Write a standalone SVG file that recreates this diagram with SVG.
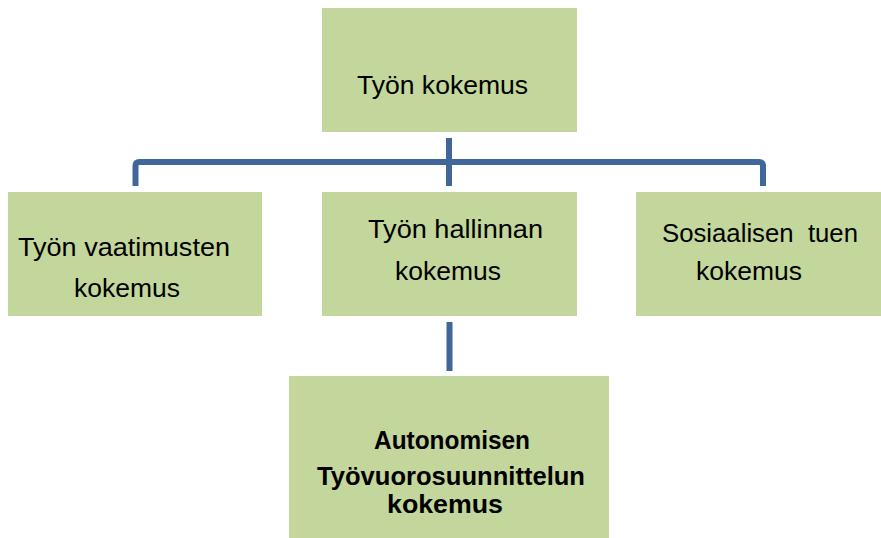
<svg xmlns="http://www.w3.org/2000/svg" width="881" height="538" viewBox="0 0 881 538">
  <style>
    .box { fill: #C3D69B; }
    .lbl { font-family: "Liberation Sans", Arial, sans-serif; font-size: 26px; fill: #000; }
    .bold { font-weight: bold; }
    .pre { white-space: pre; }
    .conn { fill: none; stroke: #41679A; stroke-width: 6; stroke-linejoin: round; }
  </style>
  <rect width="881" height="538" fill="#FFFFFF"/>

  <g id="connectors">
    <path class="conn" d="M449 138 V186"/>
    <path class="conn" d="M135.5 186 V166 Q135.5 162 139.5 162 H759 Q763 162 763 166 V186"/>
    <path class="conn" d="M449.5 322 V371"/>
  </g>

  <g id="node-tyon-kokemus">
    <rect class="box" x="322" y="8" width="255" height="124"/>
    <text class="lbl" x="357" y="94" textLength="171" lengthAdjust="spacingAndGlyphs">Työn kokemus</text>
  </g>

  <g id="node-vaatimukset">
    <rect class="box" x="8" y="192" width="254" height="124"/>
    <text class="lbl" x="18" y="256" textLength="212" lengthAdjust="spacingAndGlyphs">Työn vaatimusten</text>
    <text class="lbl" x="74" y="297" textLength="106" lengthAdjust="spacingAndGlyphs">kokemus</text>
  </g>

  <g id="node-hallinta">
    <rect class="box" x="322" y="192" width="255" height="124"/>
    <text class="lbl" x="368" y="238" textLength="175" lengthAdjust="spacingAndGlyphs">Työn hallinnan</text>
    <text class="lbl" x="395" y="280" textLength="106" lengthAdjust="spacingAndGlyphs">kokemus</text>
  </g>

  <g id="node-sosiaalinen-tuki">
    <rect class="box" x="636" y="192" width="245" height="124"/>
    <text class="lbl pre" x="662" y="242" textLength="196" lengthAdjust="spacingAndGlyphs">Sosiaalisen  tuen</text>
    <text class="lbl" x="696" y="280" textLength="106" lengthAdjust="spacingAndGlyphs">kokemus</text>
  </g>

  <g id="node-autonominen">
    <rect class="box" x="289" y="376" width="320" height="162"/>
    <text class="lbl bold" x="374" y="449" textLength="156" lengthAdjust="spacingAndGlyphs">Autonomisen</text>
    <text class="lbl bold" x="317" y="485" textLength="268" lengthAdjust="spacingAndGlyphs">Työvuorosuunnittelun</text>
    <text class="lbl bold" x="387" y="513" textLength="116" lengthAdjust="spacingAndGlyphs">kokemus</text>
  </g>
</svg>
